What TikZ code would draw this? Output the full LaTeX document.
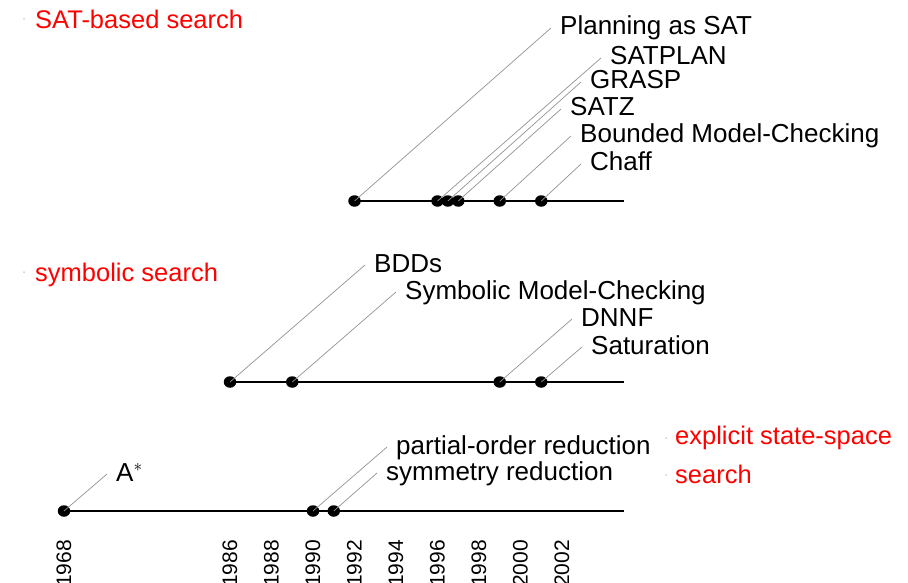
\documentclass[tikz,border=0pt]{standalone}
\usepackage{fontspec}
\setmainfont{Liberation Sans}
\usetikzlibrary{shapes.geometric}
% x position of a year on the (broken) time axis
\def\yx#1{230+(#1-1986)*20.75}
\begin{document}
\begin{tikzpicture}[x=1pt,y=-1pt,
  axis/.style={line width=2.8pt},
  ev/.style={ellipse,fill=black,inner sep=0pt,minimum width=12.5pt,minimum height=11.5pt},
  lead/.style={gray!85,line width=0.7pt},
  lbl/.style={anchor=west,inner xsep=9pt,inner ysep=0pt,text height=19pt,text depth=5pt,
              font=\fontsize{26}{30}\selectfont},
  area/.style={anchor=base west,inner sep=0pt,text=red,font=\fontsize{25.5}{30}\selectfont},
  tick/.style={circle,fill=gray!70,inner sep=0pt,minimum size=1.5pt},
  yr/.style={rotate=90,anchor=east,inner sep=0pt,font=\fontsize{21}{24}\selectfont}]
\useasboundingbox (0,0) rectangle (908,583);

% ---------- SAT-based search ----------
\coordinate (topend) at ({\yx{2005}},201);
\coordinate (p1) at ({\yx{1992}},201);
\draw[axis] (p1) -- (topend);
\node[ev] (s1) at (p1) {};
\node[ev] (s2) at ({\yx{1996}},201) {};
\node[ev] (s3) at ({\yx{1996.5}},201) {};
\node[ev] (s4) at ({\yx{1997}},201) {};
\node[ev] (s5) at ({\yx{1999}},201) {};
\node[ev] (s6) at ({\yx{2001}},201) {};
\node[lbl] (ls1) at (551,28) {Planning as SAT};
\node[lbl] (ls2) at (601,58) {SATPLAN};
\node[lbl] (ls3) at (581,82) {GRASP};
\node[lbl] (ls4) at (561,109) {SATZ};
\node[lbl] (ls5) at (571,136) {Bounded Model-Checking};
\node[lbl] (ls6) at (581,164) {Chaff};
\foreach \i in {1,...,6} \draw[lead] (s\i.center) -- (ls\i.west);

% ---------- symbolic search ----------
\coordinate (midend) at ({\yx{2005}},382);
\coordinate (q1) at ({\yx{1986}},382);
\draw[axis] (q1) -- (midend);
\node[ev] (m1) at (q1) {};
\node[ev] (m2) at ({\yx{1989}},382) {};
\node[ev] (m3) at ({\yx{1999}},382) {};
\node[ev] (m4) at ({\yx{2001}},382) {};
\node[lbl] (lm1) at (365,265) {BDDs};
\node[lbl] (lm2) at (396,292) {Symbolic Model-Checking};
\node[lbl] (lm3) at (572,319) {DNNF};
\node[lbl] (lm4) at (582,347) {Saturation};
\foreach \i in {1,...,4} \draw[lead] (m\i.center) -- (lm\i.west);

% ---------- explicit state-space search ----------
\coordinate (botend) at ({\yx{2005}},511);
\coordinate (r1) at (64,511);
\draw[axis] (r1) -- (botend);
\node[ev] (b1) at (r1) {};
\node[ev] (b2) at ({\yx{1990}},511) {};
\node[ev] (b3) at ({\yx{1991}},511) {};
\node[lbl] (lb1) at (107,474) {A$^{*}$};
\node[lbl] (lb2) at (387,447) {partial-order reduction};
\node[lbl] (lb3) at (377,473) {symmetry reduction};
\foreach \i in {1,...,3} \draw[lead] (b\i.center) -- (lb\i.west);

% ---------- year labels ----------
\node[yr] (y1968) at (64,540) {1968};
\foreach \y in {1986,1988,...,2002}
  \node[yr] (y\y) at ({\yx{\y}},540) {\y};

% ---------- area headings ----------
\node[tick] (t1) at (24,19) {};
\node[area] (h1) at (35,29) {SAT-based search};
\node[tick] (t2) at (24,272) {};
\node[area] (h2) at (35,281) {symbolic search};
\node[tick] (t3) at (666,438) {};
\node[area] (h3) at (675,444) {explicit state-space};
\node[tick] (t4) at (666,475) {};
\node[area] (h4) at (675,483) {search};
\end{tikzpicture}
\end{document}
